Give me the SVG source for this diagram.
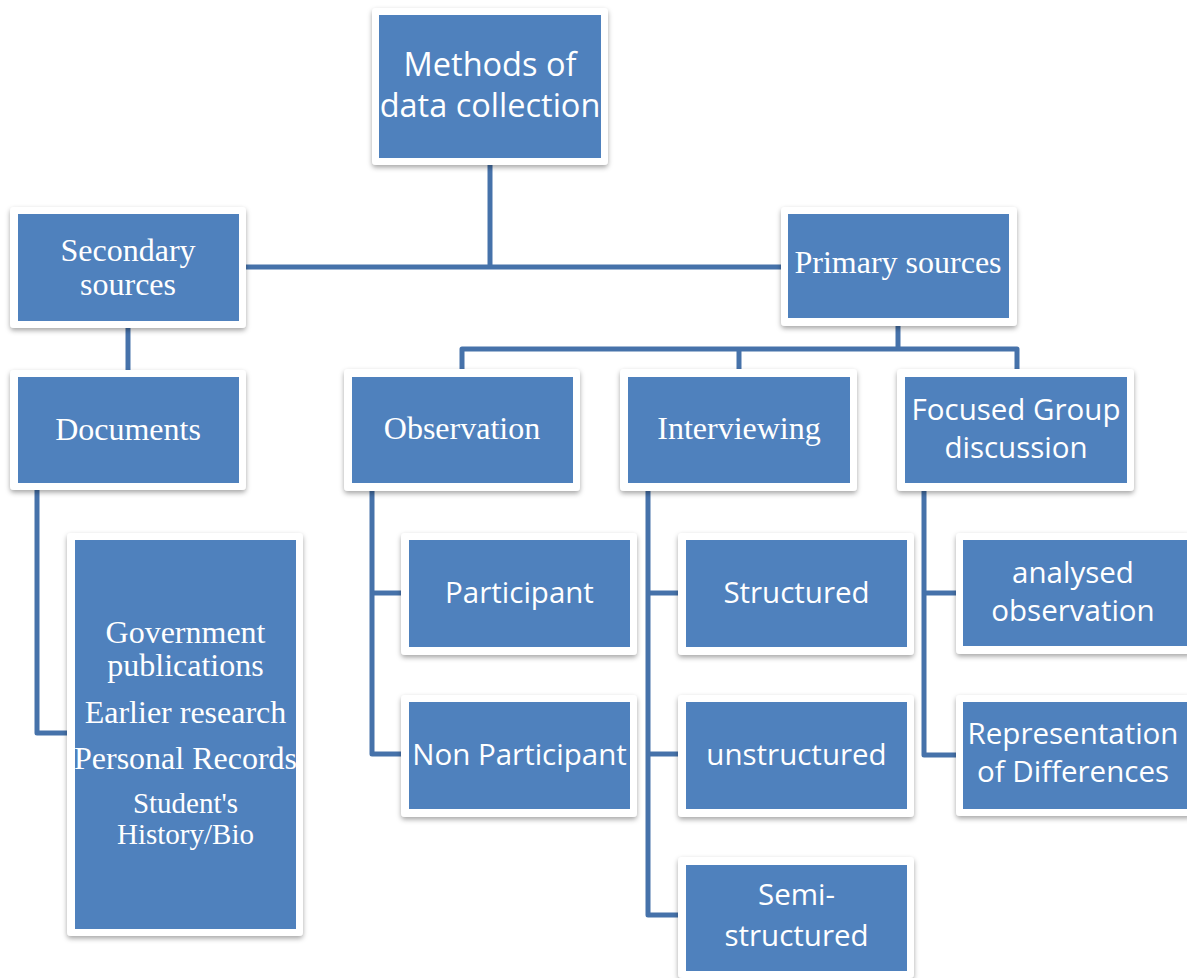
<svg xmlns="http://www.w3.org/2000/svg" width="1187" height="978" viewBox="0 0 1187 978">
  <style>
    .frame { fill: #ffffff; filter: url(#shadow); }
    .box { fill: #4F81BD; }
    .link { fill: none; stroke: #4672AA; stroke-width: 5; stroke-linejoin: round; }
    .sans { font-family: "Open Sans", "Noto Sans", sans-serif; fill: #ffffff; text-anchor: middle; font-size: 29.5px; }
    .serif { font-family: "Liberation Serif", "Times New Roman", serif; fill: #ffffff; text-anchor: middle; font-size: 32px; }
  </style>
  <defs>
    <filter id="shadow" x="-10%" y="-10%" width="120%" height="130%">
      <feDropShadow dx="0" dy="2.5" stdDeviation="2.5" flood-color="#000000" flood-opacity="0.35"/>
    </filter>
  </defs>
  <rect width="1187" height="978" fill="#ffffff"/>

  <g id="connectors">
    <path class="link" d="M490,165 V267"/>
    <path class="link" d="M246,267 H782"/>
    <path class="link" d="M128,328 V370"/>
    <path class="link" d="M37,490 V733 H68"/>
    <path class="link" d="M898,326 V349"/>
    <path class="link" d="M462,370 V349 H1017 V370"/>
    <path class="link" d="M739,349 V370"/>
    <path class="link" d="M372,491 V754 H402"/>
    <path class="link" d="M372,593 H402"/>
    <path class="link" d="M648,491 V915 H678"/>
    <path class="link" d="M648,593 H678"/>
    <path class="link" d="M648,754 H678"/>
    <path class="link" d="M924,491 V755 H956"/>
    <path class="link" d="M924,593 H956"/>
  </g>

  <g id="methods">
    <rect class="frame" x="372" y="8" width="236" height="157" rx="4"/>
    <rect class="box" x="379" y="15" width="222" height="143"/>
    <text class="sans" style="font-size:32.5px" x="490" y="76">Methods of</text>
    <text class="sans" style="font-size:32.5px" x="490" y="117">data collection</text>
  </g>

  <g id="secondary">
    <rect class="frame" x="10" y="207" width="236" height="121" rx="4"/>
    <rect class="box" x="18" y="214" width="221" height="107"/>
    <text class="serif" x="128" y="261">Secondary</text>
    <text class="serif" x="128" y="295">sources</text>
  </g>

  <g id="primary">
    <rect class="frame" x="781" y="207" width="236" height="119" rx="4"/>
    <rect class="box" x="788" y="214" width="221" height="104"/>
    <text class="serif" x="898" y="273">Primary sources</text>
  </g>

  <g id="documents">
    <rect class="frame" x="10" y="370" width="236" height="120" rx="4"/>
    <rect class="box" x="18" y="377" width="221" height="106"/>
    <text class="serif" x="128" y="440">Documents</text>
  </g>

  <g id="document-types">
    <rect class="frame" x="67" y="533" width="236" height="403" rx="4"/>
    <rect class="box" x="75" y="540" width="221" height="389"/>
    <text class="serif" x="185.5" y="643">Government</text>
    <text class="serif" x="185.5" y="676">publications</text>
    <text class="serif" x="185.5" y="723">Earlier research</text>
    <text class="serif" x="185.5" y="769">Personal Records</text>
    <text class="serif" style="font-size:29px" x="185.5" y="813">Student's</text>
    <text class="serif" style="font-size:29px" x="185.5" y="844">History/Bio</text>
  </g>

  <g id="observation">
    <rect class="frame" x="344" y="369" width="236" height="122" rx="4"/>
    <rect class="box" x="352" y="377" width="221" height="106"/>
    <text class="serif" x="462" y="439">Observation</text>
  </g>

  <g id="interviewing">
    <rect class="frame" x="620" y="369" width="237" height="122" rx="4"/>
    <rect class="box" x="628" y="377" width="222" height="106"/>
    <text class="serif" x="739" y="439">Interviewing</text>
  </g>

  <g id="focused-group">
    <rect class="frame" x="897" y="369" width="237" height="122" rx="4"/>
    <rect class="box" x="905" y="377" width="222" height="106"/>
    <text class="sans" x="1016" y="420">Focused Group</text>
    <text class="sans" x="1016" y="458">discussion</text>
  </g>

  <g id="participant">
    <rect class="frame" x="401" y="533" width="236" height="122" rx="4"/>
    <rect class="box" x="409" y="540" width="221" height="107"/>
    <text class="sans" x="519.5" y="603">Participant</text>
  </g>

  <g id="non-participant">
    <rect class="frame" x="401" y="695" width="236" height="122" rx="4"/>
    <rect class="box" x="409" y="702" width="221" height="107"/>
    <text class="sans" x="519.5" y="765">Non Participant</text>
  </g>

  <g id="structured">
    <rect class="frame" x="678" y="533" width="236" height="122" rx="4"/>
    <rect class="box" x="686" y="540" width="221" height="107"/>
    <text class="sans" x="796.5" y="603">Structured</text>
  </g>

  <g id="unstructured">
    <rect class="frame" x="678" y="695" width="236" height="122" rx="4"/>
    <rect class="box" x="686" y="702" width="221" height="107"/>
    <text class="sans" x="796.5" y="765">unstructured</text>
  </g>

  <g id="semi-structured">
    <rect class="frame" x="678" y="857" width="236" height="121" rx="4"/>
    <rect class="box" x="686" y="865" width="221" height="106"/>
    <text class="sans" x="796.5" y="905">Semi-</text>
    <text class="sans" x="796.5" y="946">structured</text>
  </g>

  <g id="analysed-observation">
    <rect class="frame" x="956" y="533" width="236" height="121" rx="4"/>
    <rect class="box" x="963" y="540" width="224" height="106"/>
    <text class="sans" x="1073" y="583">analysed</text>
    <text class="sans" x="1073" y="621">observation</text>
  </g>

  <g id="representation">
    <rect class="frame" x="956" y="695" width="236" height="121" rx="4"/>
    <rect class="box" x="963" y="702" width="224" height="107"/>
    <text class="sans" x="1073" y="744">Representation</text>
    <text class="sans" x="1073" y="782">of Differences</text>
  </g>
</svg>
